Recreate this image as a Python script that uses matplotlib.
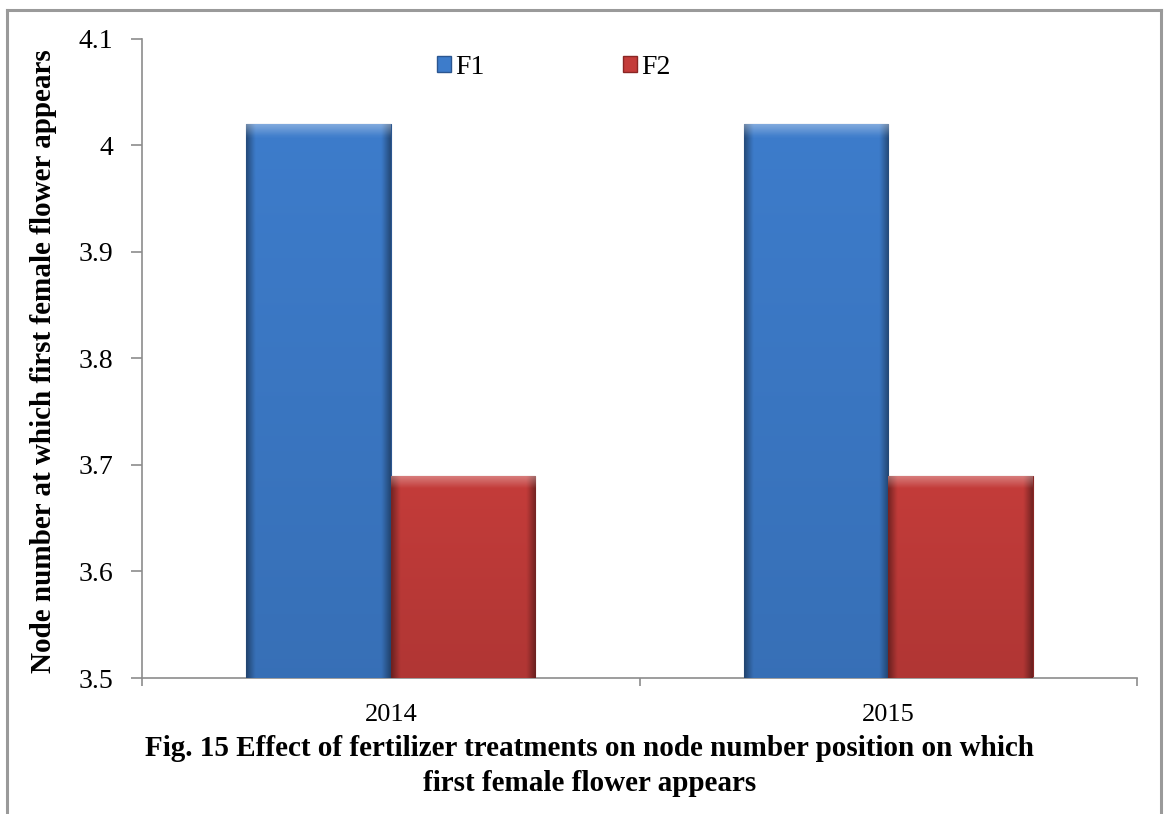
import numpy as np
import matplotlib
matplotlib.use("Agg")
import matplotlib.pyplot as plt
from matplotlib.patches import Patch
from matplotlib.lines import Line2D
from matplotlib.colors import to_rgb

# data
years = ["2014", "2015"]
f1_values = [4.02, 4.02]
f2_values = [3.69, 3.69]
series_names = ["F1", "F2"]
y_ticks = [3.5, 3.6, 3.7, 3.8, 3.9, 4.0, 4.1]
y_tick_labels = ["3.5", "3.6", "3.7", "3.8", "3.9", "4", "4.1"]

plt.rcParams["font.family"] = ["Liberation Serif", "DejaVu Serif"]

BLUE = "#3d7ccb"
RED = "#c43c3a"
AXIS_GREY = "#8c8c8c"


def shade_bar(ax, bar, base, bottom):
    """Paint a bevelled gradient inside a bar patch."""
    x0 = bar.get_x()
    w = bar.get_width()
    top = bar.get_y() + bar.get_height()
    nx, ny = 80, 200
    u = np.linspace(0, 1, nx)
    v = np.linspace(0, 1, ny)
    # darker near the left/right edges
    edge = np.clip(np.minimum(u, 1 - u) / 0.06, 0, 1)
    side = 0.62 + 0.38 * edge
    rgb = np.array(to_rgb(base))
    img = np.ones((ny, nx, 3)) * rgb
    img *= side[None, :, None]
    # slight darkening toward the bottom
    img *= (0.9 + 0.1 * v)[:, None, None]
    # light strip along the top edge
    strip = np.clip(1 - (1 - v) * (top - bottom) / 0.012, 0, 1)
    img = img + (1 - img) * (0.35 * strip)[:, None, None]
    img = np.clip(img, 0, 1)
    im = ax.imshow(img, extent=(x0, x0 + w, bottom, top), origin="lower",
                   aspect="auto", interpolation="bilinear", zorder=3)
    im.set_clip_path(bar)


fig = plt.figure(figsize=(11.65, 8.14), dpi=100)
ax = fig.add_axes([0.1219, 0.167, 0.8541, 0.7857])

x = np.arange(len(years))
width = 0.29
bottom = 3.5
bars1 = ax.bar(x - width / 2, np.array(f1_values) - bottom, width, bottom=bottom,
               color=BLUE, edgecolor="#2b5690", linewidth=0.8, zorder=2)
bars2 = ax.bar(x + width / 2, np.array(f2_values) - bottom, width, bottom=bottom,
               color=RED, edgecolor="#8a2624", linewidth=0.8, zorder=2)
for b in bars1:
    shade_bar(ax, b, BLUE, bottom)
for b in bars2:
    shade_bar(ax, b, RED, bottom)

ax.set_xlim(-0.5, 1.5)
ax.set_ylim(3.5, 4.1)
ax.set_yticks(y_ticks)
ax.set_yticklabels(y_tick_labels)
ax.set_xticks(x)
ax.set_xticklabels(years)
ax.set_xticks([-0.5, 0.5, 1.5], minor=True)

for side in ["top", "right"]:
    ax.spines[side].set_visible(False)
for side in ["left", "bottom"]:
    ax.spines[side].set_color(AXIS_GREY)
    ax.spines[side].set_linewidth(1.2)

ax.tick_params(axis="y", direction="out", length=8, width=1.2, color=AXIS_GREY,
               labelsize=20, pad=13)
ax.tick_params(axis="x", which="major", length=0, labelsize=19, pad=19)
ax.tick_params(axis="x", which="minor", direction="out", length=6, width=1.2,
               color=AXIS_GREY)

ax.set_ylabel("Node number at which first female flower appears",
              fontsize=21, fontweight="bold")
ax.yaxis.set_label_coords(-0.085, 0.496)

handles = [Patch(facecolor=BLUE, edgecolor="#2b5690"),
           Patch(facecolor=RED, edgecolor="#8a2624")]
ax.legend(handles, series_names, loc="center", bbox_to_anchor=(0.414, 0.955),
          ncol=2, frameon=False, fontsize=20, handlelength=0.5,
          handleheight=0.5, handletextpad=0.15, columnspacing=5.0)

fig.text(0.506, 0.081,
         "Fig. 15 Effect of fertilizer treatments on node number position on which",
         ha="center", va="center", fontsize=21, fontweight="bold")
fig.text(0.506, 0.038, "first female flower appears",
         ha="center", va="center", fontsize=21, fontweight="bold")

# outer frame, open at the bottom
fx0, fx1 = 7 / 1165, 1161 / 1165
fy_top = 1 - 10 / 814
frame = dict(color="#9a9a9a", linewidth=2.2, transform=fig.transFigure)
fig.add_artist(Line2D([fx0, fx0], [0, fy_top], **frame))
fig.add_artist(Line2D([fx1, fx1], [0, fy_top], **frame))
fig.add_artist(Line2D([fx0, fx1], [fy_top, fy_top], **frame))

fig.savefig("out.png", dpi=100)
